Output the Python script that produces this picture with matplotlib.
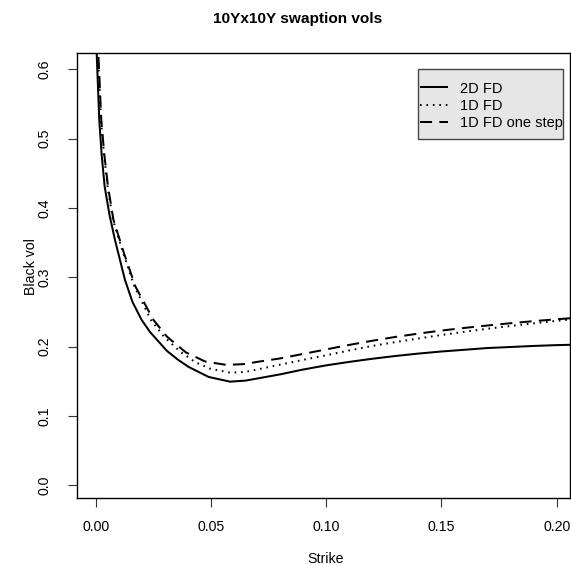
import matplotlib
matplotlib.use('Agg')
import matplotlib.pyplot as plt
from matplotlib.patches import Rectangle

plt.rcParams['font.family'] = ['Liberation Sans', 'DejaVu Sans']

# ---- data ----
strike_2d_fd = [0.0001, 0.00043, 0.00156, 0.0026, 0.0039, 0.0060, 0.00837, 0.01271,
                0.01597, 0.01996, 0.02356, 0.03094, 0.03584, 0.04035, 0.04902, 0.05826,
                0.065, 0.07, 0.08, 0.09, 0.10, 0.11, 0.12, 0.13, 0.14, 0.15, 0.16, 0.17,
                0.18, 0.19, 0.20, 0.21]
vol_2d_fd = [0.70, 0.6237, 0.5271, 0.4766, 0.4309, 0.3900, 0.3540, 0.2963,
             0.2645, 0.2385, 0.2212, 0.1938, 0.1808, 0.1707, 0.1563, 0.1495,
             0.151, 0.154, 0.160, 0.167, 0.173, 0.178, 0.1825, 0.1865, 0.190, 0.193,
             0.1955, 0.198, 0.1995, 0.201, 0.2022, 0.203]

strike_1d_fd = [0.0002, 0.0010, 0.0023, 0.00356, 0.00516, 0.0075, 0.01197, 0.01683,
                0.02399, 0.02963, 0.03657, 0.04308, 0.04959, 0.05826, 0.065, 0.07, 0.08,
                0.09, 0.10, 0.11, 0.12, 0.13, 0.14, 0.15, 0.16, 0.17, 0.18, 0.19, 0.20, 0.21]
vol_1d_fd = [0.72, 0.6238, 0.5271, 0.4791, 0.4309, 0.3828, 0.3348, 0.2866,
             0.2385, 0.2144, 0.1931, 0.1779, 0.1683, 0.1625, 0.1635, 0.167, 0.174,
             0.181, 0.1875, 0.1945, 0.201, 0.2065, 0.2118, 0.2168, 0.2215, 0.2258, 0.2298,
             0.2336, 0.2372, 0.2405]

strike_1d_fd_one_step = [0.0002, 0.00113, 0.00243, 0.00369, 0.00534, 0.00772, 0.01228, 0.01727,
                         0.02508, 0.03093, 0.03918, 0.04755, 0.05683, 0.065, 0.07, 0.08,
                         0.09, 0.10, 0.11, 0.12, 0.13, 0.14, 0.15, 0.16, 0.17, 0.18, 0.19,
                         0.20, 0.21]
vol_1d_fd_one_step = [0.74, 0.6238, 0.5271, 0.4791, 0.4309, 0.3828, 0.3348, 0.2866,
                      0.2385, 0.2144, 0.1916, 0.1785, 0.1736, 0.175, 0.178, 0.183,
                      0.1895, 0.196, 0.2025, 0.2085, 0.214, 0.2188, 0.2232, 0.227, 0.2305,
                      0.2338, 0.2368, 0.2395, 0.242]

series_labels = ['2D FD', '1D FD', '1D FD one step']
x_ticks = [0.0, 0.05, 0.10, 0.15, 0.20]
x_tick_labels = ['0.00', '0.05', '0.10', '0.15', '0.20']
y_ticks = [0.0, 0.1, 0.2, 0.3, 0.4, 0.5, 0.6]
y_tick_labels = ['0.0', '0.1', '0.2', '0.3', '0.4', '0.5', '0.6']

title = '10Yx10Y swaption vols'
x_label = 'Strike'
y_label = 'Black vol'

# ---- figure ----
W, H = 571, 566
fig = plt.figure(figsize=(W / 100, H / 100), dpi=100)
ax_l, ax_r, ax_t, ax_b = 77, 570, 53.3, 498
ax = fig.add_axes([ax_l / W, 1 - ax_b / H, (ax_r - ax_l) / W, (ax_b - ax_t) / H])

lw = 1.45
l1, = ax.plot(strike_2d_fd, vol_2d_fd, color='black', lw=lw, solid_capstyle='butt')
l2, = ax.plot(strike_1d_fd, vol_1d_fd, color='black', lw=lw, dashes=(0.8, 2.4))
l3, = ax.plot(strike_1d_fd_one_step, vol_1d_fd_one_step, color='black', lw=lw,
              dashes=(6, 3.6))

ax.set_xlim(-0.0081, 0.2058)
ax.set_ylim(-0.0183, 0.6231)

ax.set_xticks(x_ticks)
ax.set_xticklabels(x_tick_labels)
ax.set_yticks(y_ticks)
ax.set_yticklabels(y_tick_labels)

fs = 10.2
ax.tick_params(axis='x', length=6.3, width=0.8, pad=9.5, labelsize=fs, color='#333333')
ax.tick_params(axis='y', length=6.5, width=0.8, pad=12.0, labelsize=fs, color='#333333',
               labelrotation=90)
for lab in ax.get_yticklabels():
    lab.set_va('center')
    lab.set_ha('right')

for sp in ax.spines.values():
    sp.set_linewidth(1.0)
    sp.set_color('black')

ax.set_xlabel(x_label, fontsize=fs)
ax.xaxis.set_label_coords((326 - ax_l) / (ax_r - ax_l), -(559 - ax_b) / (ax_b - ax_t))
ax.xaxis.label.set_va('center')
ax.set_ylabel(y_label, fontsize=fs)
ax.yaxis.set_label_coords((31 - ax_l) / (ax_r - ax_l), 1 - (267 - ax_t) / (ax_b - ax_t))
ax.yaxis.label.set_va('center')
ax.yaxis.label.set_ha('center')

fig.text(298 / W, 1 - 19.5 / H, title, ha='center', va='center',
         fontsize=11.1, fontweight='bold')

# legend: background box + legend entries
def ax_x(px):
    return (px - ax_l) / (ax_r - ax_l)

def ax_y(py):
    return 1 - (py - ax_t) / (ax_b - ax_t)

box = Rectangle((ax_x(418), ax_y(139)), ax_x(563) - ax_x(418), ax_y(69) - ax_y(139),
                transform=ax.transAxes, facecolor='#e6e6e6', edgecolor='#444444',
                lw=1.0, zorder=4)
ax.add_patch(box)
leg = ax.legend([l1, l2, l3], series_labels, loc='upper left',
                bbox_to_anchor=(ax_x(420), ax_y(81.5)), frameon=False,
                borderpad=0, borderaxespad=0, handlelength=1.92,
                handletextpad=0.82, labelspacing=0.22, fontsize=10.5)
leg.set_zorder(5)

fig.savefig('out.png', dpi=100)
